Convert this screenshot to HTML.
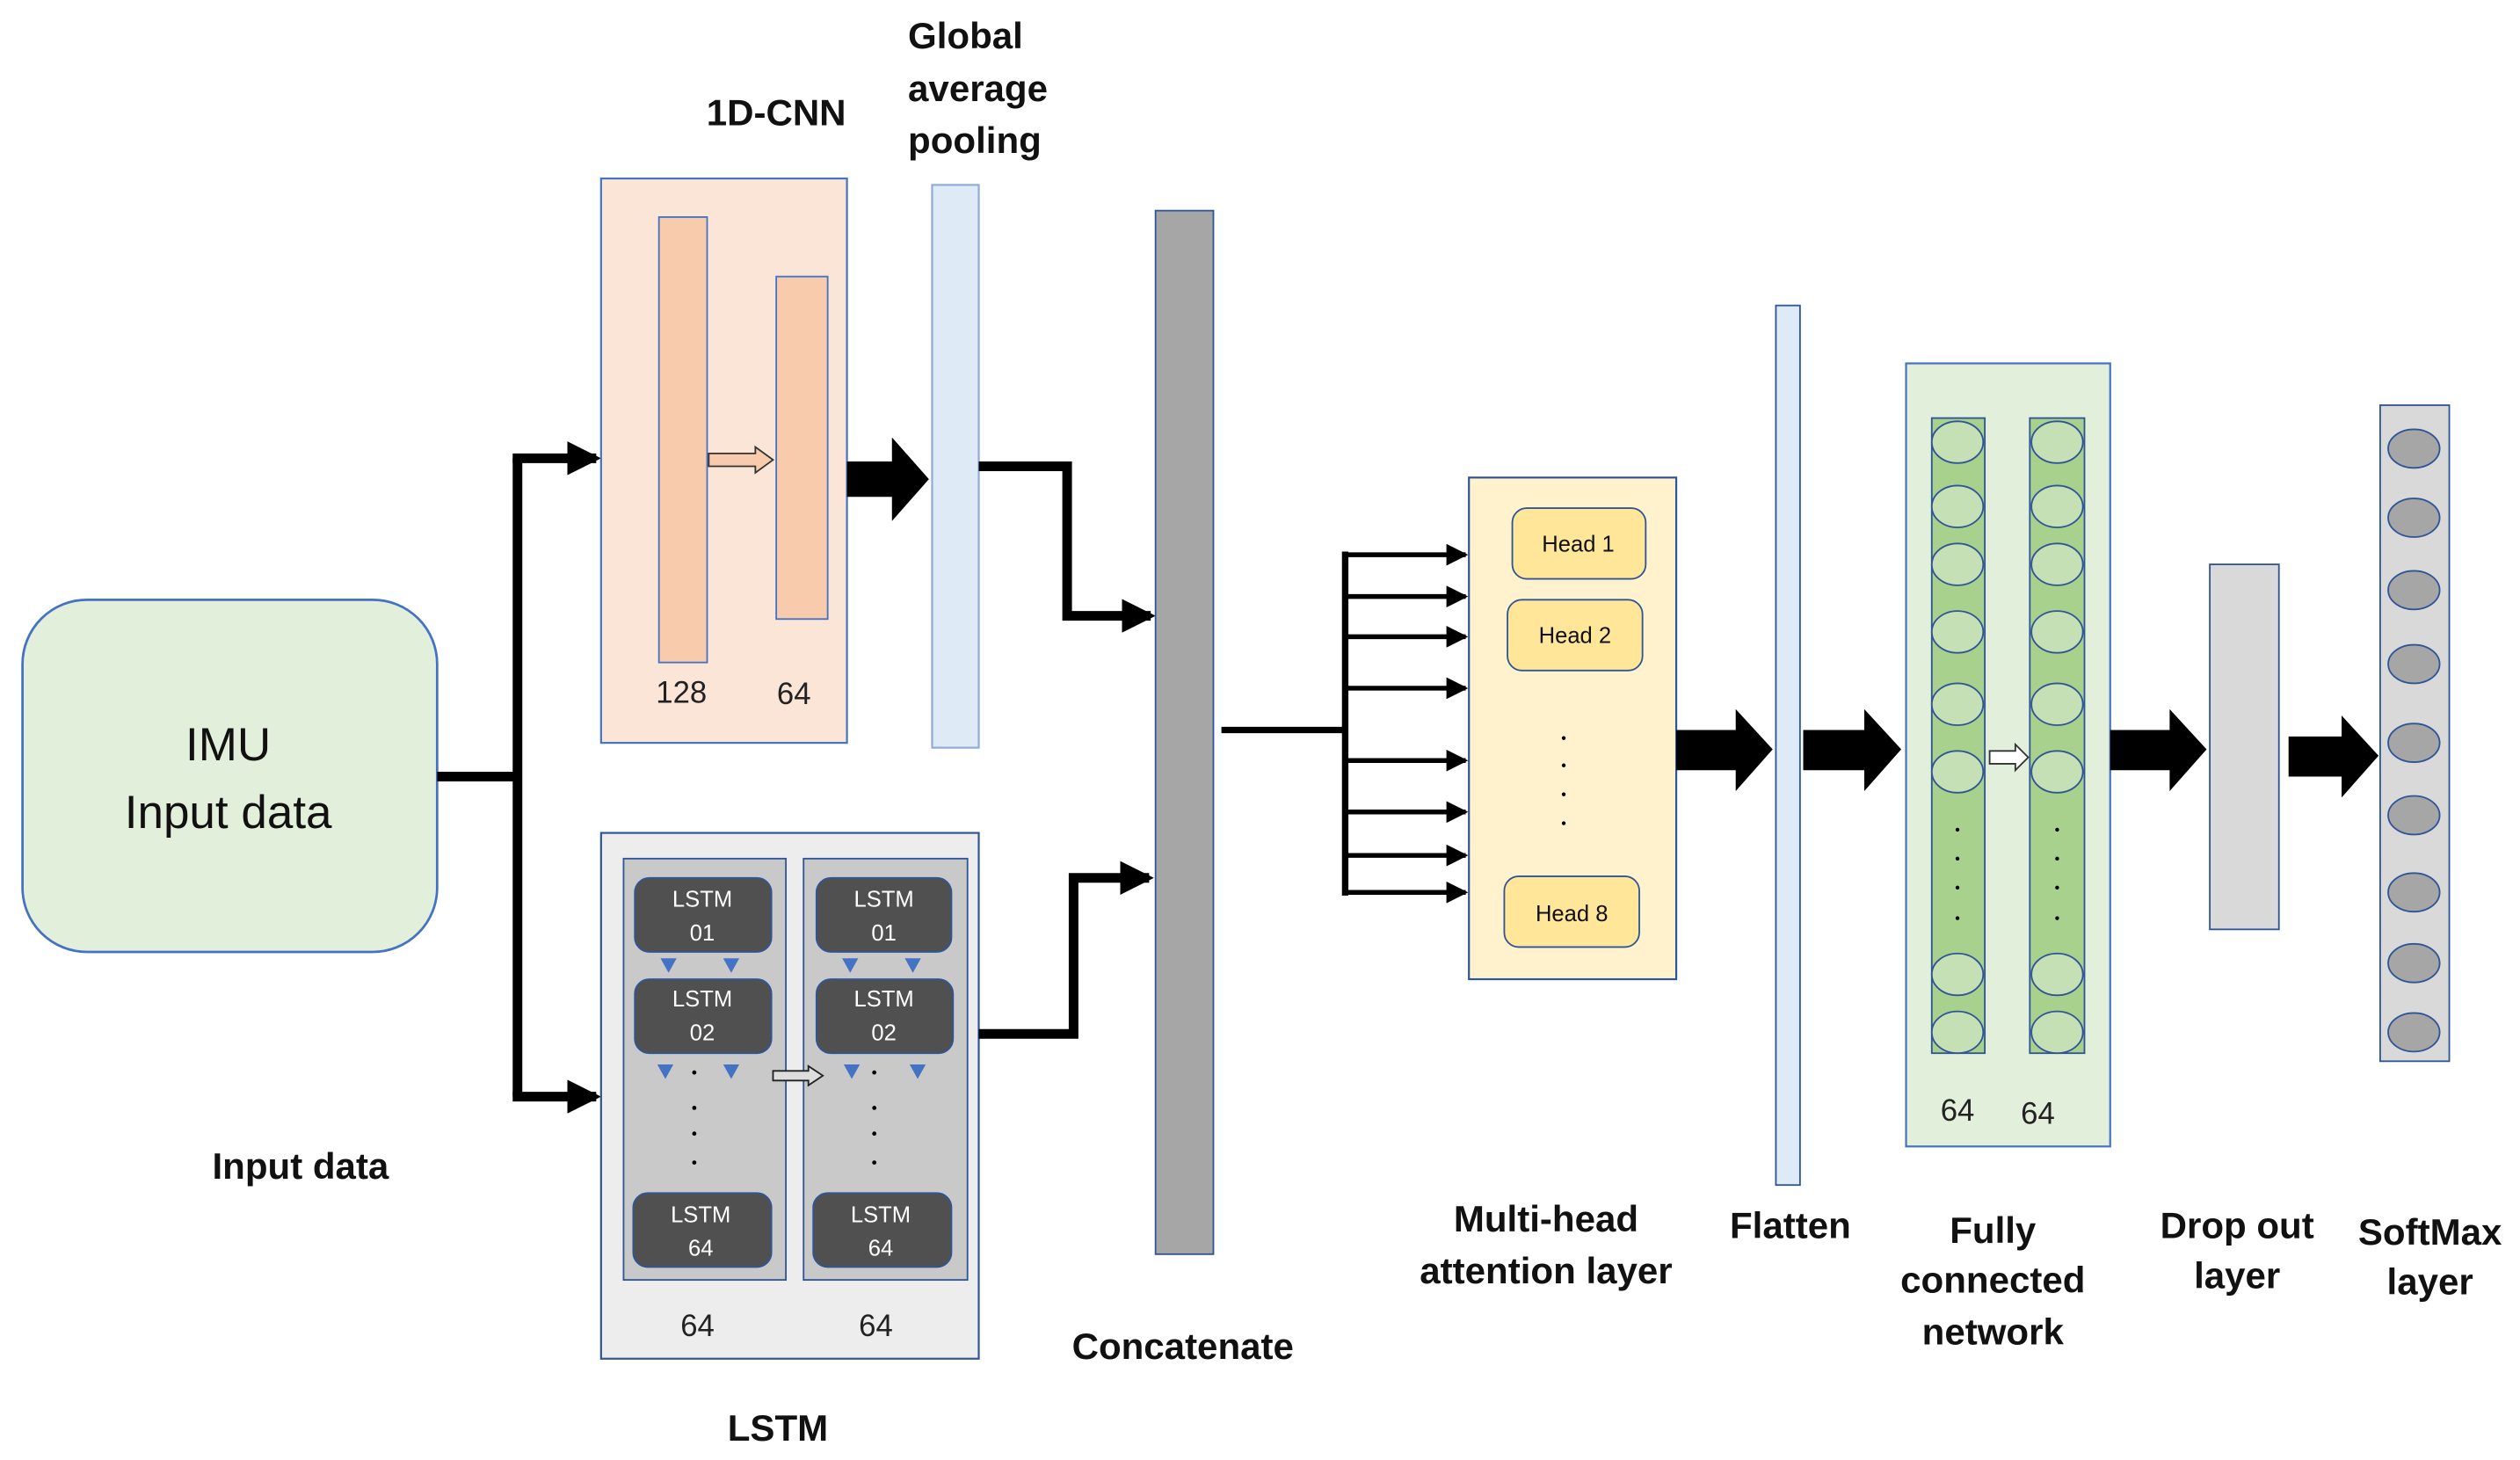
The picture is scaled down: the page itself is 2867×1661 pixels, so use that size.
<!DOCTYPE html>
<html><head><meta charset="utf-8"><style>
html,body{margin:0;padding:0;background:#fff}
svg{display:block}
text{font-family:"Liberation Sans",sans-serif}
.b{font-weight:bold;font-size:23px;fill:#111}
.l{font-size:14px;fill:#fff}
.h{font-size:14px;fill:#111}
.n{font-size:19px;fill:#222}
</style></head><body>
<svg width="2867" height="1661" viewBox="0 0 1568 908" preserveAspectRatio="none" xmlns="http://www.w3.org/2000/svg">
<defs>
<marker id="a" markerWidth="4.5" markerHeight="4.5" refX="4" refY="2.25" orient="auto" markerUnits="strokeWidth"><path d="M0,0 L4.5,2.25 L0,4.5 z" fill="#000"/></marker>
<marker id="s" markerWidth="3.5" markerHeight="3.5" refX="3" refY="1.75" orient="auto" markerUnits="strokeWidth"><path d="M0,0 L3.5,1.75 L0,3.5 z" fill="#000"/></marker>
</defs>
<!-- IMU -->
<rect x="14" y="373" width="258" height="219" rx="40" fill="#e2efda" stroke="#4472c4" stroke-width="1.5"/>
<text x="142" y="473" text-anchor="middle" font-size="29" fill="#111">IMU</text>
<text x="142" y="515" text-anchor="middle" font-size="29" fill="#111">Input data</text>
<path d="M272,483 H322 M322,285 V682" stroke="#000" stroke-width="6" fill="none"/>
<path d="M319,285 H371" stroke="#000" stroke-width="6" marker-end="url(#s)"/>
<path d="M319,682 H371" stroke="#000" stroke-width="6" marker-end="url(#s)"/>
<!-- 1D CNN -->
<rect x="374" y="111" width="153" height="351" fill="#fbe5d6" stroke="#4472c4" stroke-width="1.2"/>
<rect x="410" y="135" width="30" height="277" fill="#f8cbad" stroke="#4472c4" stroke-width="1"/>
<rect x="483" y="172" width="32" height="213" fill="#f8cbad" stroke="#4472c4" stroke-width="1"/>
<path d="M441,282 H470 V278 L481,286 L470,294 V290 H441 Z" fill="#f8cbad" stroke="#333" stroke-width="1"/>
<text x="424" y="437" text-anchor="middle" class="n">128</text>
<text x="494" y="438" text-anchor="middle" class="n">64</text>
<path d="M527,287 H555 V272 L578,298 L555,324 V309 H527 Z" fill="#000"/>
<rect x="580" y="115" width="29" height="350" fill="#deebf7" stroke="#8faadc" stroke-width="1.2"/>
<path d="M609,290 H664 V383 H716" stroke="#000" stroke-width="6" fill="none" marker-end="url(#s)"/>
<!-- Concatenate -->
<rect x="719" y="131" width="36" height="649" fill="#a6a6a6" stroke="#2f5597" stroke-width="1"/>
<!-- LSTM -->
<rect x="374" y="518" width="235" height="327" fill="#ededed" stroke="#2f5597" stroke-width="1.2"/>
<rect x="388" y="534" width="101" height="262" fill="#c9c9c9" stroke="#2f5597" stroke-width="1"/>
<rect x="500" y="534" width="102" height="262" fill="#c9c9c9" stroke="#2f5597" stroke-width="1"/>
<g fill="#505050" stroke="#2f5597" stroke-width="1">
<rect x="395" y="546" width="85" height="46" rx="9"/><rect x="395" y="609" width="85" height="46" rx="9"/><rect x="394" y="742" width="86" height="46" rx="9"/>
<rect x="508" y="546" width="84" height="46" rx="9"/><rect x="508" y="609" width="85" height="46" rx="9"/><rect x="506" y="742" width="86" height="46" rx="9"/>
</g>
<g class="l" text-anchor="middle">
<text x="437" y="564">LSTM</text><text x="437" y="585">01</text>
<text x="437" y="626">LSTM</text><text x="437" y="647">02</text>
<text x="436" y="760">LSTM</text><text x="436" y="781">64</text>
<text x="550" y="564">LSTM</text><text x="550" y="585">01</text>
<text x="550" y="626">LSTM</text><text x="550" y="647">02</text>
<text x="548" y="760">LSTM</text><text x="548" y="781">64</text>
</g>
<g fill="#4472c4">
<path d="M411,596 h10 l-5,9 z"/><path d="M450,596 h10 l-5,9 z"/>
<path d="M409,662 h10 l-5,9 z"/><path d="M450,662 h10 l-5,9 z"/>
<path d="M524,596 h10 l-5,9 z"/><path d="M563,596 h10 l-5,9 z"/>
<path d="M525,662 h10 l-5,9 z"/><path d="M566,662 h10 l-5,9 z"/>
</g>
<g fill="#000"><circle cx="432" cy="667" r="1.3"/><circle cx="432" cy="689" r="1.3"/><circle cx="432" cy="705" r="1.3"/><circle cx="432" cy="723" r="1.3"/>
<circle cx="544" cy="667" r="1.3"/><circle cx="544" cy="689" r="1.3"/><circle cx="544" cy="705" r="1.3"/><circle cx="544" cy="723" r="1.3"/></g>
<path d="M481,666 H503 V663 L512,669 L503,675 V672 H481 Z" fill="#ddd" stroke="#222" stroke-width="1"/>
<text x="434" y="831" text-anchor="middle" class="n">64</text>
<text x="545" y="831" text-anchor="middle" class="n">64</text>
<path d="M609,643 H668 V546 H715" stroke="#000" stroke-width="6" fill="none" marker-end="url(#s)"/>
<!-- MHA connectors -->
<path d="M760,454 H836 M837,343 V557" stroke="#000" stroke-width="4" fill="none"/>
<g stroke="#000" stroke-width="3" fill="none">
<path d="M836,345 H912" marker-end="url(#a)"/><path d="M836,371 H912" marker-end="url(#a)"/><path d="M836,396 H912" marker-end="url(#a)"/><path d="M836,428 H912" marker-end="url(#a)"/>
<path d="M836,473 H912" marker-end="url(#a)"/><path d="M836,505 H912" marker-end="url(#a)"/><path d="M836,532 H912" marker-end="url(#a)"/><path d="M836,555 H912" marker-end="url(#a)"/>
</g>
<rect x="914" y="297" width="129" height="312" fill="#fff2cc" stroke="#2f5597" stroke-width="1.2"/>
<g fill="#ffe699" stroke="#2f5597" stroke-width="1">
<rect x="941" y="316" width="83" height="44" rx="9"/><rect x="938" y="373" width="84" height="44" rx="9"/><rect x="936" y="545" width="84" height="44" rx="9"/></g>
<g class="h" text-anchor="middle"><text x="982" y="343">Head 1</text><text x="980" y="400">Head 2</text><text x="978" y="573">Head 8</text></g>
<g fill="#000"><circle cx="973" cy="459" r="1.2"/><circle cx="973" cy="476" r="1.2"/><circle cx="973" cy="494" r="1.2"/><circle cx="973" cy="512" r="1.2"/></g>
<path d="M1043,454 H1080 V441 L1103,466 L1080,492 V479 H1043 Z" fill="#000"/>
<rect x="1105" y="190" width="15" height="547" fill="#deebf7" stroke="#2f5597" stroke-width="1"/>
<path d="M1122,454 H1160 V441 L1183,466 L1160,492 V479 H1122 Z" fill="#000"/>
<!-- FC -->
<rect x="1186" y="226" width="127" height="487" fill="#e2efda" stroke="#4472c4" stroke-width="1.2"/>
<rect x="1202" y="260" width="33" height="395" fill="#a9d18e" stroke="#2f5597" stroke-width="1"/>
<rect x="1263" y="260" width="34" height="395" fill="#a9d18e" stroke="#2f5597" stroke-width="1"/>
<g fill="#c5e0b4" stroke="#2f5597" stroke-width="1">
<ellipse cx="1218" cy="275" rx="16" ry="13"/><ellipse cx="1218" cy="315" rx="16" ry="13"/><ellipse cx="1218" cy="351" rx="16" ry="13"/><ellipse cx="1218" cy="393" rx="16" ry="13"/><ellipse cx="1218" cy="438" rx="16" ry="13"/><ellipse cx="1218" cy="480" rx="16" ry="13"/><ellipse cx="1218" cy="606" rx="16" ry="13"/><ellipse cx="1218" cy="642" rx="16" ry="13"/>
<ellipse cx="1280" cy="275" rx="16" ry="13"/><ellipse cx="1280" cy="315" rx="16" ry="13"/><ellipse cx="1280" cy="351" rx="16" ry="13"/><ellipse cx="1280" cy="393" rx="16" ry="13"/><ellipse cx="1280" cy="438" rx="16" ry="13"/><ellipse cx="1280" cy="480" rx="16" ry="13"/><ellipse cx="1280" cy="606" rx="16" ry="13"/><ellipse cx="1280" cy="642" rx="16" ry="13"/>
</g>
<g fill="#000"><circle cx="1218" cy="516" r="1.2"/><circle cx="1218" cy="534" r="1.2"/><circle cx="1218" cy="552" r="1.2"/><circle cx="1218" cy="571" r="1.2"/>
<circle cx="1280" cy="516" r="1.2"/><circle cx="1280" cy="534" r="1.2"/><circle cx="1280" cy="552" r="1.2"/><circle cx="1280" cy="571" r="1.2"/></g>
<path d="M1238,467 H1254 V463 L1262,471 L1254,479 V475 H1238 Z" fill="#fff" stroke="#333" stroke-width="1"/>
<text x="1218" y="697" text-anchor="middle" class="n">64</text>
<text x="1268" y="699" text-anchor="middle" class="n">64</text>
<path d="M1313,454 H1350 V441 L1373,466 L1350,492 V479 H1313 Z" fill="#000"/>
<rect x="1375" y="351" width="43" height="227" fill="#d9d9d9" stroke="#2f5597" stroke-width="1"/>
<path d="M1424,458 H1457 V445 L1480,470 L1457,496 V483 H1424 Z" fill="#000"/>
<rect x="1481" y="252" width="43" height="408" fill="#d9d9d9" stroke="#2f5597" stroke-width="1"/>
<g fill="#a6a6a6" stroke="#2f5597" stroke-width="1">
<ellipse cx="1502" cy="279" rx="16" ry="12"/><ellipse cx="1502" cy="322" rx="16" ry="12"/><ellipse cx="1502" cy="367" rx="16" ry="12"/><ellipse cx="1502" cy="413" rx="16" ry="12"/><ellipse cx="1502" cy="462" rx="16" ry="12"/><ellipse cx="1502" cy="507" rx="16" ry="12"/><ellipse cx="1502" cy="555" rx="16" ry="12"/><ellipse cx="1502" cy="599" rx="16" ry="12"/><ellipse cx="1502" cy="642" rx="16" ry="12"/>
</g>
<!-- labels -->
<g class="b" text-anchor="middle">
<text x="483" y="78">1D-CNN</text>
<text x="187" y="733">Input data</text>
<text x="484" y="896">LSTM</text>
<text x="736" y="845">Concatenate</text>
<text x="962" y="766">Multi-head</text><text x="962" y="798">attention layer</text>
<text x="1114" y="770">Flatten</text>
<text x="1240" y="773">Fully</text><text x="1240" y="804">connected</text><text x="1240" y="836">network</text>
<text x="1392" y="770">Drop out</text><text x="1392" y="801">layer</text>
<text x="1512" y="774">SoftMax</text><text x="1512" y="805">layer</text>
</g>
<g class="b"><text x="565" y="30">Global</text><text x="565" y="63">average</text><text x="565" y="95">pooling</text></g>
</svg>
</body></html>
